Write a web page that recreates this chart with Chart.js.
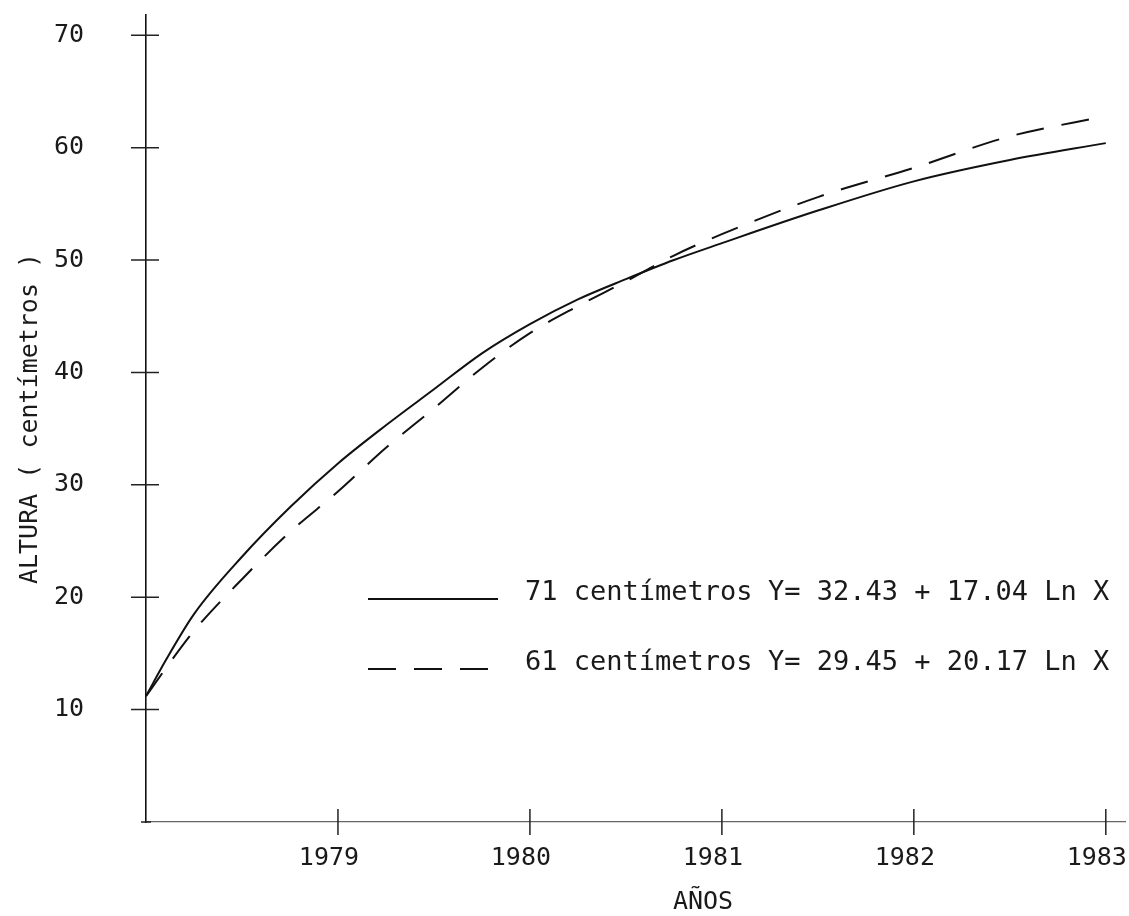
<!DOCTYPE html>
<html>
<head>
<meta charset="utf-8">
<script src="https://cdn.jsdelivr.net/npm/chart.js@4.4.1/dist/chart.umd.min.js"></script>
<style>
  html, body { margin: 0; padding: 0; background: #fff; }
  #wrap { width: 1129px; height: 916px; position: relative; }
</style>
</head>
<body>
<div id="wrap"><canvas id="c"></canvas></div>
<script>
// Growth in height (cm) of the two plantings
const years    = [1978.0, 1978.1, 1978.25, 1978.5, 1978.75, 1979, 1979.25, 1979.5, 1979.75, 1980, 1980.25, 1980.5, 1980.75, 1981, 1981.5, 1982, 1982.5, 1983];
const altura71 = [11.2, 14.3, 18.5, 23.6, 28.0, 31.9, 35.3, 38.5, 41.7, 44.3, 46.5, 48.3, 50.0, 51.5, 54.4, 57.0, 58.9, 60.4];
const altura61 = [11.2, 13.6, 17.0, 21.6, 25.8, 29.4, 33.3, 36.8, 40.4, 43.5, 45.9, 48.1, 50.4, 52.3, 55.6, 58.2, 61.0, 62.8];

const seriesLabels = ['71 centímetros', '61 centímetros'];
const equations    = ['Y= 32.43 + 17.04 Ln X', 'Y= 29.45 + 20.17 Ln X'];

const yearTicks   = [1979, 1980, 1981, 1982, 1983];
const heightTicks = [10, 20, 30, 40, 50, 60, 70];

const FONT = "'DejaVu Sans Mono', monospace";
const INK = '#1a1a1a';

// Tick marks that cross the axis line, as on a hand-drafted graph
const crossTicks = {
  id: 'crossTicks',
  afterDraw(chart) {
    const { ctx, scales: { x, y } } = chart;
    const ax = x.getPixelForValue(x.min);
    const ay = y.getPixelForValue(0);
    ctx.save();
    ctx.strokeStyle = '#222';
    ctx.lineWidth = 1.5;
    ctx.beginPath();
    y.ticks.forEach(t => {
      const py = y.getPixelForValue(t.value);
      ctx.moveTo(ax - 15, py);
      ctx.lineTo(ax + 13, py);
    });
    x.ticks.forEach(t => {
      const px = x.getPixelForValue(t.value);
      ctx.moveTo(px, ay - 13);
      ctx.lineTo(px, ay + 13);
    });
    ctx.moveTo(ax - 5, ay); ctx.lineTo(ax + 5, ay);
    ctx.stroke();
    ctx.restore();
  }
};

// Key with line samples and the fitted equations
const curveKey = {
  id: 'curveKey',
  afterDatasetsDraw(chart, args, opts) {
    const { ctx } = chart;
    ctx.save();
    chart.data.datasets.forEach((ds, i) => {
      const base = opts.rows[i];
      ctx.beginPath();
      ctx.strokeStyle = ds.borderColor;
      ctx.lineWidth = ds.borderWidth;
      ctx.setLineDash(ds.borderDash || []);
      ctx.moveTo(opts.lineStart, base - 1);
      ctx.lineTo(opts.lineEnd, base - 1);
      ctx.stroke();
      ctx.setLineDash([]);
      ctx.fillStyle = INK;
      ctx.font = opts.font;
      ctx.textBaseline = 'alphabetic';
      ctx.textAlign = 'left';
      ctx.fillText(ds.label, opts.labelX, base);
      ctx.fillText(opts.equations[i], opts.equationX, base);
    });
    ctx.restore();
  }
};

// Horizontal axis caption
const yearCaption = {
  id: 'yearCaption',
  afterDraw(chart, args, opts) {
    const { ctx } = chart;
    ctx.save();
    ctx.fillStyle = INK;
    ctx.font = opts.font;
    ctx.textAlign = 'center';
    ctx.textBaseline = 'middle';
    ctx.fillText(opts.text, opts.x, opts.y);
    ctx.restore();
  }
};

const toPoints = vals => years.map((x, i) => ({ x, y: vals[i] }));

new Chart(document.getElementById('c'), {
  type: 'line',
  data: {
    datasets: [
      {
        label: seriesLabels[0],
        data: toPoints(altura71),
        borderColor: '#111',
        borderWidth: 2,
        pointRadius: 0,
        cubicInterpolationMode: 'monotone',
        fill: false
      },
      {
        label: seriesLabels[1],
        data: toPoints(altura61),
        borderColor: '#111',
        borderWidth: 2,
        borderDash: [28, 18],
        pointRadius: 0,
        cubicInterpolationMode: 'monotone',
        fill: false
      }
    ]
  },
  options: {
    responsive: true,
    maintainAspectRatio: false,
    animation: false,
    events: [],
    layout: { padding: { left: 0, top: 15, right: 4, bottom: 0 } },
    plugins: {
      legend: { display: false },
      tooltip: { enabled: false },
      curveKey: {
        rows: [600, 670],
        lineStart: 368,
        lineEnd: 498,
        labelX: 525,
        equationX: 768,
        equations: equations,
        font: "27px " + FONT
      },
      yearCaption: { text: 'AÑOS', x: 703, y: 902, font: "25px " + FONT }
    },
    scales: {
      x: {
        type: 'linear',
        min: 1978,
        max: 1983.1,
        afterBuildTicks: s => { s.ticks = yearTicks.map(v => ({ value: v })); },
        afterFit: s => { s.height = 94; s.paddingLeft = 0; s.paddingRight = 0; },
        ticks: {
          font: { family: FONT, size: 25 },
          color: INK,
          padding: 21,
          labelOffset: -9,
          maxRotation: 0,
          autoSkip: false,
          callback: v => String(v)
        },
        grid: { display: false, drawTicks: false },
        border: { display: true, color: '#666', width: 1.2, dash: [9, 5] }
      },
      y: {
        type: 'linear',
        min: 0,
        max: 71.8,
        afterBuildTicks: s => { s.ticks = heightTicks.map(v => ({ value: v })); },
        afterFit: s => { s.width = 146; s.paddingTop = 0; s.paddingBottom = 0; },
        ticks: {
          font: { family: FONT, size: 25 },
          color: INK,
          padding: 62,
          callback: v => String(v)
        },
        grid: { display: false, drawTicks: false },
        border: { display: true, color: '#111', width: 1.6 },
        title: {
          display: true,
          text: 'ALTURA ( centímetros )',
          font: { family: FONT, size: 25 },
          color: INK,
          padding: { top: 15, bottom: 0 }
        }
      }
    }
  },
  plugins: [crossTicks, curveKey, yearCaption]
});
</script>
</body>
</html>
